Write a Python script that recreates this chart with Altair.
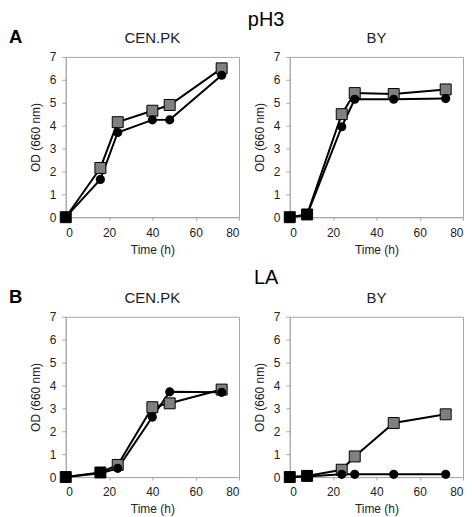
import altair as alt
import pandas as pd

# ---- data ----
ph3_cenpk_time = [0, 16, 24, 40, 48, 72]
ph3_cenpk_circle = [0, 1.65, 3.7, 4.25, 4.25, 6.2]
ph3_cenpk_square = [0, 2.15, 4.15, 4.65, 4.9, 6.5]

ph3_by_time = [0, 8, 24, 30, 48, 72]
ph3_by_circle = [0, 0.1, 3.95, 5.15, 5.15, 5.18]
ph3_by_square = [0, 0.12, 4.5, 5.42, 5.38, 5.58]

la_cenpk_time = [0, 16, 24, 40, 48, 72]
la_cenpk_circle = [0, 0.17, 0.38, 2.62, 3.72, 3.7]
la_cenpk_square = [0, 0.2, 0.53, 3.05, 3.22, 3.82]

la_by_time = [0, 8, 24, 30, 48, 72]
la_by_circle = [0, 0.02, 0.12, 0.12, 0.12, 0.12]
la_by_square = [0, 0.05, 0.32, 0.9, 2.36, 2.74]

x_ticks = [0, 20, 40, 60, 80]
y_ticks = [0, 1, 2, 3, 4, 5, 6, 7]

FONT = "Liberation Sans"
W, H = 174, 161


def panel(strain, times, circ, sq, label=None):
    n = len(times)
    df = pd.DataFrame({
        "time": times + times,
        "od": circ + sq,
        "series": ["circle"] * n + ["square"] * n,
    })
    x = alt.X("time:Q", scale=alt.Scale(domain=[0, 80], nice=False),
              axis=alt.Axis(values=x_ticks, title="Time (h)", titleFontWeight="normal",
                            tickSize=3, labelPadding=7, titlePadding=6))
    y = alt.Y("od:Q", scale=alt.Scale(domain=[0, 7], nice=False),
              axis=alt.Axis(values=y_ticks, title="OD (660 nm)", titleFontWeight="normal",
                            tickSize=4, labelPadding=6, titlePadding=7))
    base = alt.Chart(df).encode(x=x, y=y)
    lines = base.mark_line(color="black", strokeWidth=2).encode(detail="series:N")
    squares = base.transform_filter(alt.datum.series == "square").mark_square(
        size=121, stroke="black", strokeWidth=1, opacity=1
    ).encode(fill=alt.condition("datum.od <= 0.2", alt.value("black"), alt.value("#808080")))
    circles = base.transform_filter(alt.datum.series == "circle").mark_circle(
        size=85, color="black", opacity=1
    )
    title = alt.Chart(pd.DataFrame({"t": [strain]})).mark_text(
        font=FONT, fontSize=15, align="center", baseline="alphabetic", color="#222"
    ).encode(text="t:N", x=alt.value(W / 2), y=alt.value(-14))
    layers = [lines, squares, circles, title]
    if label:
        lab = alt.Chart(pd.DataFrame({"t": [label]})).mark_text(
            font=FONT, fontSize=18.5, fontWeight="bold", align="left",
            baseline="alphabetic", color="black"
        ).encode(text="t:N", x=alt.value(-57), y=alt.value(-14))
        layers.append(lab)
    return alt.layer(*layers).properties(width=W, height=H)


def row(cond, left, right, offset):
    return alt.hconcat(left, right, spacing=12,
                       title=alt.Title(cond, font=FONT, fontSize=20, fontWeight="normal",
                                       color="black", anchor="middle", dx=30, offset=offset))


rowA = row("pH3",
           panel("CEN.PK", ph3_cenpk_time, ph3_cenpk_circle, ph3_cenpk_square, "A"),
           panel("BY", ph3_by_time, ph3_by_circle, ph3_by_square), -2)
rowB = row("LA",
           panel("CEN.PK", la_cenpk_time, la_cenpk_circle, la_cenpk_square, "B"),
           panel("BY", la_by_time, la_by_circle, la_by_square), -1)

chart = alt.vconcat(rowA, rowB, spacing=12).properties(padding=0).configure_axis(
    grid=False,
    labelFont=FONT, labelFontSize=12, labelColor="#222",
    titleFont=FONT, titleFontSize=12, titleFontWeight="normal", titleColor="#222",
    domainColor="#a6a6a6", tickColor="#a6a6a6",
).configure_view(stroke="#a6a6a6")

chart.save("out.html", embed_options={"renderer": "svg", "actions": False})
